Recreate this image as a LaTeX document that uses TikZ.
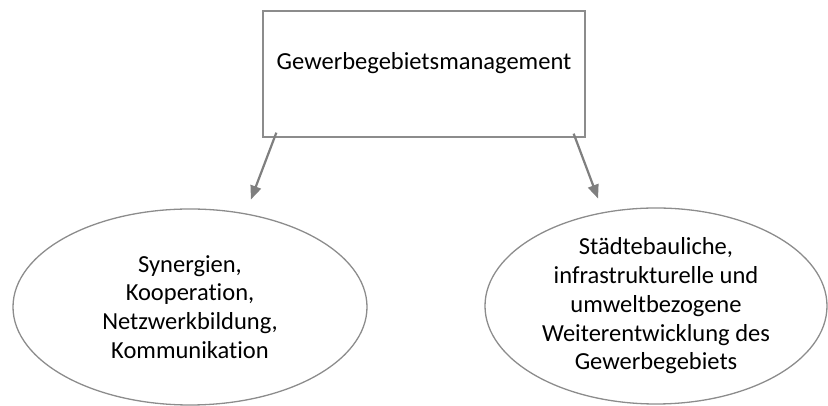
\documentclass[tikz,border=0pt]{standalone}
\usepackage{fontspec}
\setmainfont{Carlito}[Ligatures=CommonOff]
\usepackage{tikz}
\usetikzlibrary{arrows}
\usetikzlibrary{shapes.geometric}
\definecolor{linegray}{HTML}{8C8C8C}
\definecolor{arrowgray}{HTML}{7F7F7F}
\tikzstyle{every node}=[font=\fontsize{24.5}{28.8}\selectfont, align=center]
\tikzset{box/.style={draw=linegray, line width=1.3pt, rectangle, minimum width=322pt, minimum height=126pt},
  oval/.style={draw=linegray, line width=1.3pt, ellipse, inner sep=0pt},
  arr/.style={draw=arrowgray, line width=2.2pt, -triangle 45}}

\begin{document}
\begin{tikzpicture}[x=1pt, y=1pt]
		\useasboundingbox (0,0) rectangle (828,406);
		\node[box] (box) at (424,332) {};
		\node (title) at (424,343) {Gewerbegebietsmanagement};
		\node[oval, minimum width=354pt, minimum height=196pt] (left) at (190,99)
			{Synergien,\\Kooperation,\\Netzwerkbildung,\\Kommunikation};
		\node[oval, minimum width=342pt, minimum height=196pt] (right) at (656,100)
			{Städtebauliche,\\infrastrukturelle und\\umweltbezogene\\Weiterentwicklung des\\Gewerbegebiets};
		\path (box.south west)++(14,5) coordinate(ls);
		\path (left.north)++(61,9) coordinate(le);
		\path (box.south east)++(-12,4) coordinate(rs);
		\path (right.north)++(-58,9) coordinate(re);
		\draw[arr] (ls) to (le);
		\draw[arr] (rs) to (re);
		\end{tikzpicture}
\end{document}
